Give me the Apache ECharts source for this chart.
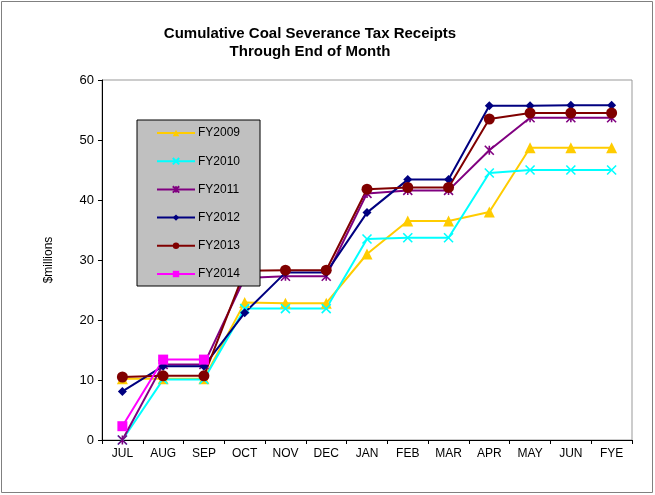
<!DOCTYPE html>
<html>
<head>
<meta charset="utf-8">
<script src="https://cdn.jsdelivr.net/npm/echarts@6/dist/echarts.min.js"></script>
<style>
  html, body { margin: 0; padding: 0; background: #fff; }
  #chart { width: 655px; height: 495px; }
</style>
</head>
<body>
<div id="chart"></div>
<script>
// months of the fiscal year
const months = ['JUL', 'AUG', 'SEP', 'OCT', 'NOV', 'DEC', 'JAN', 'FEB', 'MAR', 'APR', 'MAY', 'JUN', 'FYE'];

// cumulative receipts, $ millions
const fy2009 = [10.2, 10.2, 10.2, 22.9, 22.8, 22.8, 31.0, 36.5, 36.5, 38.0, 48.7, 48.7, 48.7];
const fy2010 = [0.0, 10.1, 10.1, 21.9, 21.9, 21.9, 33.5, 33.7, 33.7, 44.5, 45.0, 45.0, 45.0];
const fy2011 = [0.0, 12.6, 12.6, 27.0, 27.3, 27.3, 41.1, 41.6, 41.6, 48.3, 53.7, 53.7, 53.7];
const fy2012 = [8.1, 12.3, 12.3, 21.2, 27.9, 27.9, 37.9, 43.4, 43.4, 55.7, 55.7, 55.8, 55.8];
const fy2013 = [10.5, 10.7, 10.7, 28.2, 28.3, 28.3, 41.8, 42.1, 42.1, 53.5, 54.5, 54.5, 54.5];
const fy2014 = [2.3, 13.4, 13.4];

const yTicks = [0, 10, 20, 30, 40, 50, 60];

const font = 'Arial, "Liberation Sans", sans-serif';
const xMark = 'path://M0,0 L10,10 M10,0 L0,10';
const star = 'path://M0,0 L10,10 M10,0 L0,10 M5,0 L5,10';

function mkSeries(name, data, color, symbol, size, stroke) {
  return {
    name: name,
    type: 'line',
    data: data,
    symbol: symbol,
    symbolSize: size,
    showAllSymbol: true,
    lineStyle: { color: color, width: 2 },
    itemStyle: stroke
      ? { color: 'rgba(0,0,0,0)', borderColor: color, borderWidth: 1.6 }
      : { color: color, borderColor: color, borderWidth: 0 },
    emphasis: { disabled: true },
    animation: false
  };
}

const myChart = echarts.init(document.getElementById('chart'));

const option = {
  backgroundColor: '#fff',
  title: {
    text: 'Cumulative Coal Severance Tax Receipts\nThrough End of Month',
    left: 305,
    top: 20,
    textAlign: 'center',
    textStyle: { fontFamily: font, fontSize: 15, fontWeight: 'bold', color: '#000', lineHeight: 18 }
  },
  graphic: [{
    type: 'rect',
    shape: { x: 1.5, y: 1.5, width: 651, height: 491 },
    style: { fill: 'none', stroke: '#808080', lineWidth: 1 },
    silent: true
  }],
  legend: {
    orient: 'vertical',
    left: 137,
    top: 120,
    backgroundColor: '#c0c0c0',
    borderColor: '#000',
    borderWidth: 1,
    borderRadius: 0,
    padding: [7, 20, 6, 19],
    itemWidth: 38,
    itemHeight: 8,
    itemGap: 16.2,
    textStyle: { fontFamily: font, fontSize: 12, color: '#000', padding: [0, 0, 0, -2] }
  },
  grid: {
    left: 102,
    right: 23,
    top: 80,
    bottom: 55,
    show: true,
    borderColor: '#999',
    borderWidth: 1,
    backgroundColor: '#fff'
  },
  xAxis: {
    type: 'category',
    data: months,
    boundaryGap: true,
    axisLine: { lineStyle: { color: '#000', width: 1 } },
    axisTick: { show: true, length: 4, inside: false, lineStyle: { color: '#000' } },
    axisLabel: { fontFamily: font, fontSize: 12, color: '#000', margin: 8 },
    splitLine: { show: false }
  },
  yAxis: {
    type: 'value',
    min: yTicks[0],
    max: yTicks[yTicks.length - 1],
    interval: 10,
    name: '$millions',
    nameLocation: 'middle',
    nameGap: 47,
    nameRotate: 90,
    nameTextStyle: { fontFamily: font, fontSize: 12, color: '#000' },
    axisLine: { show: true, lineStyle: { color: '#000', width: 1 } },
    axisTick: { show: true, length: 4, lineStyle: { color: '#000' } },
    axisLabel: { fontFamily: font, fontSize: 13, color: '#000', margin: 8 },
    splitLine: { show: false }
  },
  series: [
    mkSeries('FY2009', fy2009, '#ffcc00', 'triangle', 11, false),
    mkSeries('FY2010', fy2010, '#00ffff', xMark, 9, true),
    mkSeries('FY2011', fy2011, '#800080', star, 9, true),
    mkSeries('FY2012', fy2012, '#000080', 'diamond', 9, false),
    mkSeries('FY2013', fy2013, '#800000', 'circle', 11, false),
    mkSeries('FY2014', fy2014, '#ff00ff', 'rect', 10, false)
  ]
};

myChart.setOption(option);
window.addEventListener('resize', () => {
  myChart.resize();
});
</script>
</body>
</html>
